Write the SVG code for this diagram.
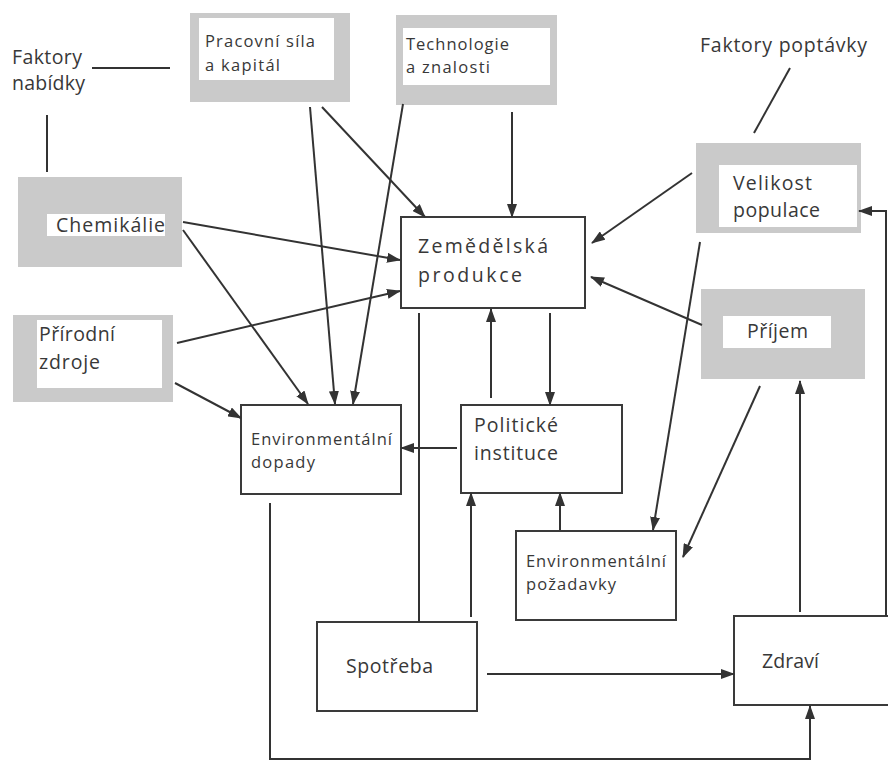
<svg xmlns="http://www.w3.org/2000/svg" width="888" height="761" viewBox="0 0 888 761">
<style>
.bg{fill:#ffffff}
.g{fill:#cacaca}
.w{fill:#ffffff}
.box{fill:#ffffff;stroke:#3a3a3a;stroke-width:2}
.t{font-family:"Open Sans","Noto Sans",sans-serif;fill:#383838;font-size:19.5px}
.s{font-size:16.5px}
.c line,.c path{stroke:#333333;stroke-width:2;fill:none}
.a{marker-end:url(#ah)}
</style>
<defs>
<marker id="ah" markerUnits="userSpaceOnUse" markerWidth="14" markerHeight="10" refX="13" refY="5" orient="auto">
<path d="M0,0 L14,5 L0,10 Z" fill="#333333"/>
</marker>
</defs>
<rect class="bg" x="0" y="0" width="888" height="761"/>

<g id="faktory-nabidky">
<text class="t" x="12" y="64" textLength="70" lengthAdjust="spacing">Faktory</text>
<text class="t" x="12" y="90" textLength="73" lengthAdjust="spacing">nabídky</text>
</g>
<g id="faktory-poptavky">
<text class="t" x="700" y="52" textLength="167" lengthAdjust="spacing">Faktory poptávky</text>
</g>

<g id="pracovni-sila">
<rect class="g" x="190" y="13" width="160" height="89"/>
<rect class="w" x="199" y="18" width="135" height="62"/>
<text class="t s" x="205" y="47" textLength="110" lengthAdjust="spacing">Pracovní síla</text>
<text class="t s" x="205" y="71" textLength="75" lengthAdjust="spacing">a kapitál</text>
</g>

<g id="technologie">
<rect class="g" x="396" y="15" width="161" height="90"/>
<rect class="w" x="403" y="28" width="147" height="57"/>
<text class="t s" x="406" y="50" textLength="103" lengthAdjust="spacing">Technologie</text>
<text class="t s" x="406" y="73" textLength="84" lengthAdjust="spacing">a znalosti</text>
</g>

<g id="chemikalie">
<rect class="g" x="18" y="177" width="164" height="90"/>
<rect class="w" x="47" y="214" width="118" height="22"/>
<text class="t" x="56" y="232" textLength="109" lengthAdjust="spacing">Chemikálie</text>
</g>

<g id="prirodni-zdroje">
<rect class="g" x="13" y="315" width="160" height="87"/>
<rect class="w" x="37" y="320" width="125" height="68"/>
<text class="t" x="39" y="341" textLength="76" lengthAdjust="spacing">Přírodní</text>
<text class="t" x="39" y="369" textLength="61" lengthAdjust="spacing">zdroje</text>
</g>

<g id="velikost-populace">
<rect class="g" x="696" y="143" width="165" height="90"/>
<rect class="w" x="719" y="165" width="138" height="62"/>
<text class="t" x="733" y="190" textLength="79" lengthAdjust="spacing">Velikost</text>
<text class="t" x="733" y="217" textLength="87" lengthAdjust="spacing">populace</text>
</g>

<g id="prijem">
<rect class="g" x="701" y="289" width="164" height="90"/>
<rect class="w" x="723" y="316" width="108" height="32"/>
<text class="t" x="747" y="338" textLength="61" lengthAdjust="spacing">Příjem</text>
</g>

<g id="zemedelska-produkce">
<rect class="box" x="401" y="217" width="184" height="91"/>
<text class="t" x="418" y="253" textLength="130" lengthAdjust="spacing">Zemědělská</text>
<text class="t" x="418" y="282" textLength="104" lengthAdjust="spacing">produkce</text>
</g>

<g id="environmentalni-dopady">
<rect class="box" x="241" y="405" width="160" height="89"/>
<text class="t s" x="251" y="445" textLength="141" lengthAdjust="spacing">Environmentální</text>
<text class="t s" x="251" y="468" textLength="64" lengthAdjust="spacing">dopady</text>
</g>

<g id="politicke-instituce">
<rect class="box" x="461" y="405" width="161" height="88"/>
<text class="t" x="474" y="432" textLength="84" lengthAdjust="spacing">Politické</text>
<text class="t" x="474" y="460" textLength="84" lengthAdjust="spacing">instituce</text>
</g>

<g id="environmentalni-pozadavky">
<rect class="box" x="516" y="531" width="160" height="89"/>
<text class="t s" x="526" y="567" textLength="140" lengthAdjust="spacing">Environmentální</text>
<text class="t s" x="526" y="590" textLength="90" lengthAdjust="spacing">požadavky</text>
</g>

<g id="spotreba">
<rect class="box" x="317" y="622" width="160" height="89"/>
<text class="t" x="346" y="673" textLength="87" lengthAdjust="spacing">Spotřeba</text>
</g>

<g id="zdravi">
<rect class="box" x="734" y="616" width="160" height="89"/>
<text class="t" x="762" y="668" textLength="57" lengthAdjust="spacing">Zdraví</text>
</g>

<g id="connectors" class="c">
<line x1="92" y1="68" x2="170" y2="68"/>
<line x1="47" y1="115" x2="47" y2="172"/>
<line x1="790" y1="68" x2="754" y2="133"/>
<line class="a" x1="310" y1="107" x2="335" y2="404"/>
<line class="a" x1="322" y1="107" x2="425" y2="217"/>
<line class="a" x1="403" y1="104" x2="353" y2="404"/>
<line class="a" x1="512" y1="112" x2="512" y2="217"/>
<line class="a" x1="183" y1="222" x2="400" y2="260"/>
<line class="a" x1="183" y1="230" x2="308" y2="404"/>
<line class="a" x1="177" y1="343" x2="400" y2="291"/>
<line class="a" x1="175" y1="383" x2="241" y2="418"/>
<line class="a" x1="692" y1="173" x2="592" y2="243"/>
<line class="a" x1="702" y1="325" x2="591" y2="277"/>
<line class="a" x1="550" y1="313" x2="550" y2="405"/>
<line class="a" x1="491" y1="398" x2="491" y2="309"/>
<line class="a" x1="457" y1="448" x2="401" y2="448"/>
<line x1="419" y1="313" x2="419" y2="622"/>
<line class="a" x1="471" y1="617" x2="471" y2="493"/>
<line class="a" x1="560" y1="530" x2="560" y2="493"/>
<line class="a" x1="700" y1="242" x2="653" y2="530"/>
<line class="a" x1="760" y1="386" x2="683" y2="557"/>
<line class="a" x1="800" y1="612" x2="800" y2="381"/>
<path class="a" d="M886,616 V211 H859"/>
<line class="a" x1="487" y1="674" x2="734" y2="674"/>
<path class="a" d="M270,503 V759 H810 V706"/>
</g>
</svg>
